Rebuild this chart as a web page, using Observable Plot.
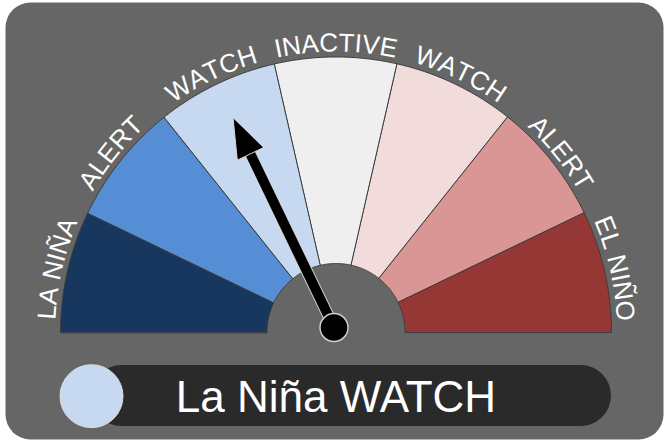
<!DOCTYPE html>
<html>
<head>
<meta charset="utf-8">
<script src="https://cdn.jsdelivr.net/npm/d3@7"></script>
<script src="https://cdn.jsdelivr.net/npm/@observablehq/plot@0.6"></script>
<style>
  body { margin: 0; background: #ffffff; }
  #chart svg { display: block; }
</style>
</head>
<body>
<div id="chart"></div>
<script>
// ---------- data ----------
const segmentLabels = ["LA NIÑA", "ALERT", "WATCH", "INACTIVE", "WATCH", "ALERT", "EL NIÑO"];
const segmentColors = ["#17375e", "#558ed5", "#c6d9f1", "#efefef", "#f2dcdb", "#d99694", "#953735"];
const needleValue = 2.5;            // position on the 0..7 segment scale (middle of La Niña WATCH)
const statusText = "La Niña WATCH";
const statusSegment = 2;            // colour of the status dot = WATCH (La Niña side)

// ---------- layout (pixels) ----------
const W = 666, H = 441;
const cx = 335.5, cy = 332, R = 275.5;          // gauge centre and outer radius
const innerR = 69, labelR = 281, labelSize = 26;
const FONT = "Liberation Sans, Arial, Helvetica, sans-serif";
const px = x => (x - cx) / R;
const py = y => (cy - y) / R;
const n = segmentLabels.length;
const ang = v => Math.PI - v * Math.PI / n;      // segment-scale value -> angle

// gauge wedges
const wedgePts = [];
segmentLabels.forEach((lab, i) => {
  const a0 = ang(i), a1 = ang(i + 1), steps = 48;
  for (let k = 0; k <= steps; k++) {
    const a = a0 + (a1 - a0) * k / steps;
    wedgePts.push({seg: i, x: Math.cos(a), y: Math.sin(a)});
  }
  for (let k = steps; k >= 0; k--) {
    const a = a0 + (a1 - a0) * k / steps;
    wedgePts.push({seg: i, x: innerR / R * Math.cos(a), y: innerR / R * Math.sin(a)});
  }
});

// curved labels, one glyph at a time
const ctx = document.createElement("canvas").getContext("2d");
ctx.font = `${labelSize}px ${FONT}`;
const glyphs = [];
segmentLabels.forEach((lab, i) => {
  const theta = ang(i + 0.5);
  const cs = [...lab];
  const widths = cs.map(c => ctx.measureText(c).width);
  const total = d3.sum(widths);
  let s = -total / 2;
  cs.forEach((c, j) => {
    const mid = s + widths[j] / 2;
    const phi = theta - mid / labelR;
    glyphs.push({
      c,
      x: labelR / R * Math.cos(phi),
      y: labelR / R * Math.sin(phi),
      rotate: 90 - phi * 180 / Math.PI
    });
    s += widths[j];
  });
});

// needle
const phiN = ang(needleValue);
const pivot = {x: px(333.5), y: py(327)};
const needleLen = 232.7 / R, headLen = 40 / R, headHalf = 14.5 / R;
const dir = [Math.cos(phiN), Math.sin(phiN)], nor = [-Math.sin(phiN), Math.cos(phiN)];
const tip = {x: pivot.x + needleLen * dir[0], y: pivot.y + needleLen * dir[1]};
const base = {x: pivot.x + (needleLen - headLen) * dir[0], y: pivot.y + (needleLen - headLen) * dir[1]};
const shaftEnd = {x: pivot.x + (needleLen - headLen + 2 / R) * dir[0], y: pivot.y + (needleLen - headLen + 2 / R) * dir[1]};
const head = [
  tip,
  {x: base.x + headHalf * nor[0], y: base.y + headHalf * nor[1]},
  {x: base.x - headHalf * nor[0], y: base.y - headHalf * nor[1]}
];
const shaft = [{x1: pivot.x, y1: pivot.y, x2: shaftEnd.x, y2: shaftEnd.y}];

// status bar
const bar = [{x1: px(91), x2: px(611), y1: py(426), y2: py(365)}];
const statusDot = [{x: px(91), y: py(395.7)}];
const statusLabel = [{x: px(335.5), y: py(411.5), t: statusText}];

const chart = Plot.plot({
  width: W, height: H,
  marginLeft: 5, marginRight: 3, marginTop: 2, marginBottom: 2,
  x: {domain: [px(5), px(663)], axis: null},
  y: {domain: [py(439), py(2)], axis: null},
  color: {type: "ordinal", domain: d3.range(n), range: segmentColors},
  style: {background: "transparent", fontFamily: FONT},
  marks: [
    Plot.frame({fill: "#666666", stroke: "none", rx: 25}),
    Plot.line(wedgePts, {x: "x", y: "y", z: "seg", fill: "seg", stroke: "#3d3d3d", strokeWidth: 1, curve: "linear-closed"}),
    Plot.text(glyphs, {x: "x", y: "y", text: "c", rotate: "rotate", fill: "white", fontSize: labelSize, fontFamily: FONT, lineAnchor: "bottom", textAnchor: "middle"}),
    Plot.link(shaft, {x1: "x1", y1: "y1", x2: "x2", y2: "y2", stroke: "#d6d6d6", strokeWidth: 12}),
    Plot.link(shaft, {x1: "x1", y1: "y1", x2: "x2", y2: "y2", stroke: "black", strokeWidth: 10}),
    Plot.line(head, {x: "x", y: "y", fill: "black", stroke: "#d6d6d6", strokeWidth: 1, curve: "linear-closed"}),
    Plot.dot([pivot], {x: "x", y: "y", r: 14, fill: "black", stroke: "#cfcfcf", strokeWidth: 1.5}),
    Plot.rect(bar, {x1: "x1", x2: "x2", y1: "y1", y2: "y2", fill: "#2a2a2a", rx: 30.5}),
    Plot.dot(statusDot, {x: "x", y: "y", r: 31.5, fill: segmentColors[statusSegment], stroke: "#dcdcdc", strokeWidth: 1}),
    Plot.text(statusLabel, {x: "x", y: "y", text: "t", fill: "white", fontSize: 44, fontFamily: FONT, lineAnchor: "bottom", textAnchor: "middle"})
  ]
});
document.getElementById("chart").appendChild(chart);
</script>
</body>
</html>
